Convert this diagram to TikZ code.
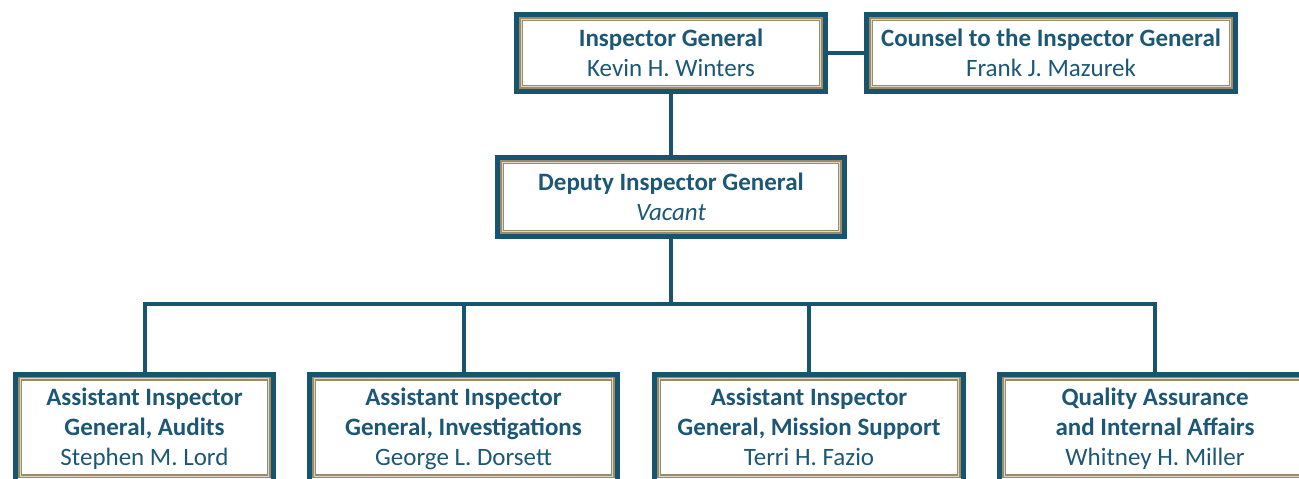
\documentclass[tikz,border=0pt]{standalone}
\usepackage{fontspec}
\setmainfont{Carlito}
\usepackage{xcolor}
\usepackage{tikz}
\usetikzlibrary{positioning}
\definecolor{oigteal}{RGB}{24,84,110}
\definecolor{oigtext}{RGB}{28,88,118}
\definecolor{oigtan}{RGB}{155,140,104}
\newcommand{\lineup}{\rule{0pt}{22pt}}
\newcommand{\linedn}{\rule[-6pt]{0pt}{6pt}}
\tikzstyle{post} = [rectangle, draw=oigteal, line width=5pt, fill=white, text=oigtext, align=center, font=\fontsize{25}{30}\selectfont, inner sep=0pt]
\tikzstyle{trim} = [draw=oigtan, line width=1.7pt, double=oigtan!35, double distance=0.7pt]
\tikzstyle{link} = [draw=oigteal, line width=4pt]

\begin{document}
\begin{tikzpicture}[x=1pt, y=-1pt]
   \useasboundingbox (0,0) rectangle (1299,479);
   % top row
   \node (ig) [post, minimum width=309pt, minimum height=77pt] at (671,53) {\lineup\textbf{Inspector General}\\Kevin H. Winters\linedn};
   \node (counsel) [post, minimum width=369pt, minimum height=77pt, right=36pt of ig] {\lineup\textbf{Counsel to the Inspector General}\\Frank J. Mazurek\linedn};
   \node (deputy) [post, minimum width=347pt, minimum height=79pt, below=61pt of ig] {\lineup\textbf{Deputy Inspector General}\\\textit{Vacant}\linedn};
   % assistant IGs
   \node (audits) [post, minimum width=258pt, minimum height=107pt] at (144.5,427.5) {\lineup\textbf{Assistant Inspector}\\\textbf{General, Audits}\\Stephen M. Lord\linedn};
   \node (invest) [post, minimum width=308pt, minimum height=107pt] at (463.5,427.5) {\lineup\textbf{Assistant Inspector}\\\textbf{General, Investigations}\\George L. Dorsett\linedn};
   \node (mission) [post, minimum width=309pt, minimum height=107pt] at (809,427.5) {\lineup\textbf{Assistant Inspector}\\\textbf{General, Mission Support}\\Terri H. Fazio\linedn};
   \node (qa) [post, minimum width=311pt, minimum height=107pt] at (1155,427.5) {\lineup\textbf{Quality Assurance}\\\textbf{and Internal Affairs}\\Whitney H. Miller\linedn};
   \foreach \n in {ig,counsel,deputy,audits,invest,mission,qa}
      \draw [trim] ([shift={(7.3pt,-7.3pt)}]\n.north west) rectangle ([shift={(-7.3pt,7.3pt)}]\n.south east);
   % lines
   \coordinate (bus) at (671,304);
   \draw [link] (ig) -- (counsel);
   \draw [link] (ig) -- (deputy);
   \draw [link] (deputy) -- (bus);
   \draw [link] (audits.north) |- (bus) -| (qa.north);
   \draw [link] (invest.north) -- (invest.north |- bus);
   \draw [link] (mission.north) -- (mission.north |- bus);
\end{tikzpicture}
\end{document}
